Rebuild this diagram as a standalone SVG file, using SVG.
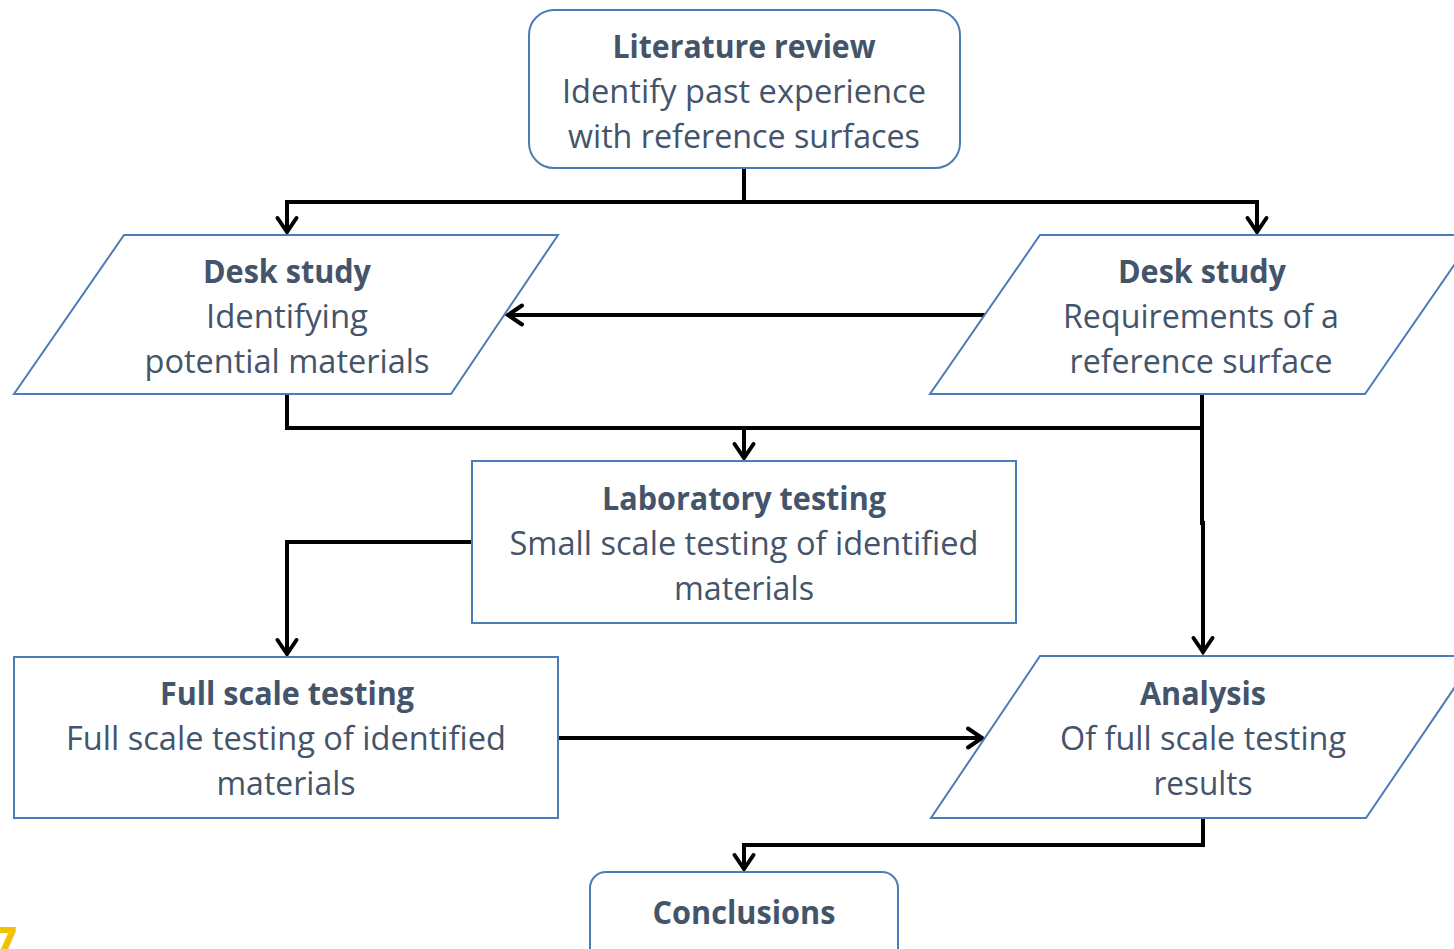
<svg xmlns="http://www.w3.org/2000/svg" width="1454" height="949" viewBox="0 0 1454 949">
  <defs>
    <style>
      .shape { fill: #ffffff; stroke: #4A7DB5; stroke-width: 2; }
      .t { font-family: "Open Sans", "Liberation Sans", sans-serif; font-size: 32.5px; fill: #44546A; text-anchor: middle; }
      .b { font-weight: bold; }
      .conn { fill: none; stroke: #000000; stroke-width: 4; stroke-linejoin: miter; }
      .arr { marker-end: url(#arrow); }
    </style>
    <marker id="arrow" markerUnits="userSpaceOnUse" markerWidth="30" markerHeight="30" viewBox="-20 -15 30 30" refX="1" refY="0" orient="auto">
      <path d="M-14,-9.5 L0,0 L-14,9.5" fill="none" stroke="#000000" stroke-width="4" stroke-linecap="round" stroke-linejoin="miter"/>
    </marker>
  </defs>
  <rect width="1454" height="949" fill="#ffffff"/>

  <g id="connectors">
    <path class="conn" d="M744,168 V202"/>
    <path class="conn arr" d="M744,202 H287 V233"/>
    <path class="conn arr" d="M744,202 H1257 V233"/>
    <path class="conn arr" d="M985,315 H507"/>
    <path class="conn" d="M287,394 V428 H1202"/>
    <path class="conn arr" d="M1202,394 V523 H1203 V653"/>
    <path class="conn arr" d="M744,428 V459"/>
    <path class="conn arr" d="M472,542 H287 V655"/>
    <path class="conn arr" d="M558,738 H983"/>
    <path class="conn arr" d="M1203,818 V845 H744 V870"/>
  </g>

  <g id="literature-review">
    <rect class="shape" x="529" y="10" width="431" height="158" rx="25" ry="25"/>
    <text class="t b" x="744" y="58" textLength="263" lengthAdjust="spacingAndGlyphs">Literature review</text>
    <text class="t" x="744" y="103" textLength="364" lengthAdjust="spacingAndGlyphs">Identify past experience</text>
    <text class="t" x="744" y="148" textLength="352" lengthAdjust="spacingAndGlyphs">with reference surfaces</text>
  </g>

  <g id="desk-study-materials">
    <polygon class="shape" points="124,235 558,235 451,394 14,394"/>
    <text class="t b" x="287" y="283" textLength="168" lengthAdjust="spacingAndGlyphs">Desk study</text>
    <text class="t" x="287" y="328" textLength="162" lengthAdjust="spacingAndGlyphs">Identifying</text>
    <text class="t" x="287" y="373" textLength="285" lengthAdjust="spacingAndGlyphs">potential materials</text>
  </g>

  <g id="desk-study-requirements">
    <polygon class="shape" points="1040,235 1475,235 1365,394 930,394"/>
    <text class="t b" x="1202" y="283" textLength="168" lengthAdjust="spacingAndGlyphs">Desk study</text>
    <text class="t" x="1201" y="328" textLength="276" lengthAdjust="spacingAndGlyphs">Requirements of a</text>
    <text class="t" x="1201" y="373" textLength="263" lengthAdjust="spacingAndGlyphs">reference surface</text>
  </g>

  <g id="laboratory-testing">
    <rect class="shape" x="472" y="461" width="544" height="162"/>
    <text class="t b" x="744" y="510" textLength="284" lengthAdjust="spacingAndGlyphs">Laboratory testing</text>
    <text class="t" x="744" y="555" textLength="469" lengthAdjust="spacingAndGlyphs">Small scale testing of identified</text>
    <text class="t" x="744" y="600" textLength="140" lengthAdjust="spacingAndGlyphs">materials</text>
  </g>

  <g id="full-scale-testing">
    <rect class="shape" x="14" y="657" width="544" height="161"/>
    <text class="t b" x="287" y="705" textLength="254" lengthAdjust="spacingAndGlyphs">Full scale testing</text>
    <text class="t" x="286" y="750" textLength="440" lengthAdjust="spacingAndGlyphs">Full scale testing of identified</text>
    <text class="t" x="286" y="795" textLength="139" lengthAdjust="spacingAndGlyphs">materials</text>
  </g>

  <g id="analysis">
    <polygon class="shape" points="1040,656 1476,656 1366,818 931,818"/>
    <text class="t b" x="1203" y="705" textLength="126" lengthAdjust="spacingAndGlyphs">Analysis</text>
    <text class="t" x="1203" y="750" textLength="286" lengthAdjust="spacingAndGlyphs">Of full scale testing</text>
    <text class="t" x="1203" y="795" textLength="99" lengthAdjust="spacingAndGlyphs">results</text>
  </g>

  <g id="conclusions">
    <rect class="shape" x="590" y="872" width="308" height="110" rx="16" ry="16"/>
    <text class="t b" x="744" y="924" textLength="183" lengthAdjust="spacingAndGlyphs">Conclusions</text>
  </g>

  <text x="-9" y="960" font-family="Open Sans, Liberation Sans, sans-serif" font-weight="bold" font-size="46" fill="#F2C200">7</text>
</svg>
